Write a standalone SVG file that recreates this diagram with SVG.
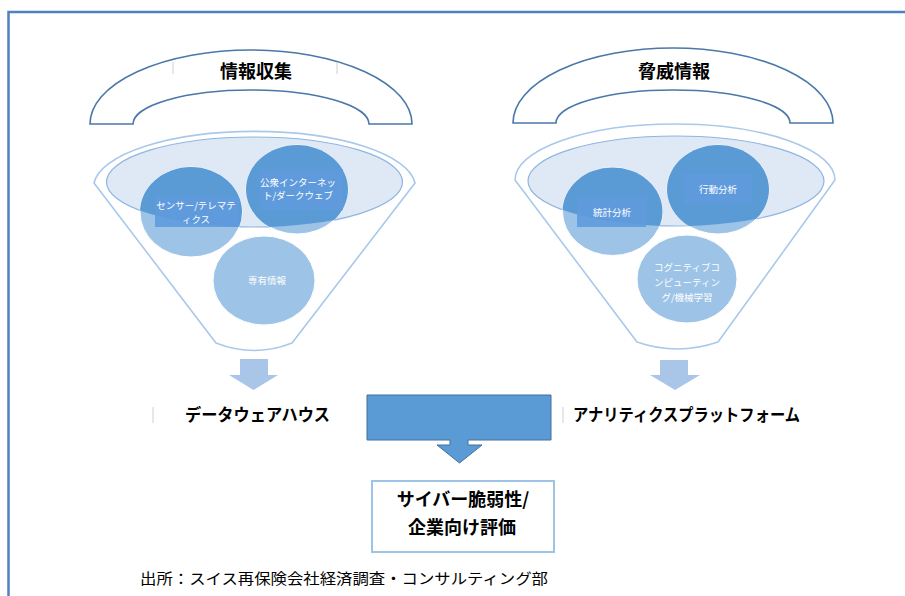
<svg xmlns="http://www.w3.org/2000/svg" width="905" height="596" viewBox="0 0 905 596">
<style>
.arch{fill:#ffffff;stroke:#4a78a8;stroke-width:1.6}
.funnel{fill:#ffffff;stroke:#a9c9ea;stroke-width:1.6}
.rim{fill:#dfe8f5;stroke:#8fb5e0;stroke-width:1.2}
.cl{fill:#9dc3e6;stroke:#ffffff;stroke-width:1}
.cd{fill:#5b9bd5}
.lbl{fill:#5f9bdd;opacity:0.9}
.wt{fill:#ffffff;font-family:"Noto Sans CJK JP","Noto Sans",sans-serif;font-size:9.5px;text-anchor:middle}
.title{fill:#000000;font-family:"Noto Sans CJK JP",sans-serif;font-size:18px;font-weight:bold;text-anchor:middle}
.bold{fill:#000000;font-family:"Noto Sans CJK JP",sans-serif;font-size:17px;font-weight:bold}
.small{fill:#a9c5e8}
.faint{stroke:#d0d0d0;stroke-width:1}
</style>
<defs>
<clipPath id="clipL"><ellipse cx="254.5" cy="182" rx="148" ry="45"/></clipPath>
<clipPath id="clipR"><ellipse cx="676" cy="181" rx="148" ry="45"/></clipPath>
</defs>
<rect x="0" y="0" width="905" height="596" fill="#ffffff"/>
<path d="M8.5 596 V12 H905" fill="none" stroke="#4f81bd" stroke-width="2.5"/>

<g id="left-funnel">
<path class="arch" d="M90 124 A161 74 0 0 1 412 124 L369 124 A118 34 0 0 0 133 124 Z"/>
<line class="faint" x1="173" y1="62" x2="173" y2="74"/>
<line class="faint" x1="337" y1="62" x2="337" y2="74"/>
<text class="title" x="256" y="78">情報収集</text>
<path class="funnel" d="M94 183 A161 56 0 0 1 415 183 L292 343 Q254 358 216 343 Z"/>
<ellipse class="rim" cx="254.5" cy="182" rx="148" ry="45"/>
<g id="node-sensor">
<ellipse class="cl" cx="191" cy="212" rx="51" ry="45"/>
<ellipse class="cd" cx="191" cy="212" rx="51" ry="45" clip-path="url(#clipL)"/>
<rect class="lbl" x="155" y="197" width="84" height="30"/>
<text class="wt" x="196" y="209">センサー/テレマテ</text>
<text class="wt" x="196" y="223">ィクス</text>
</g>
<g id="node-internet">
<ellipse class="cl" cx="297" cy="189.5" rx="51" ry="44.5"/>
<ellipse class="cd" cx="297" cy="189.5" rx="51" ry="44.5" clip-path="url(#clipL)"/>
<rect class="lbl" x="260" y="169" width="83" height="41"/>
<text class="wt" x="298" y="186">公衆インターネッ</text>
<text class="wt" x="298" y="199">ト/ダークウェブ</text>
</g>
<g id="node-proprietary">
<ellipse class="cl" cx="264" cy="280.5" rx="51" ry="44.5"/>
<text class="wt" x="267" y="284">専有情報</text>
</g>
</g>

<g id="right-funnel">
<path class="arch" d="M513 123 A160 75 0 0 1 833 123 L790 123 A117 33 0 0 0 556 123 Z"/>
<text class="title" x="674" y="78">脅威情報</text>
<path class="funnel" d="M515 180 A160 56 0 0 1 835 180 L718 342 Q677 356 637 342 Z"/>
<ellipse class="rim" cx="676" cy="181" rx="148" ry="45"/>
<g id="node-stats">
<ellipse class="cl" cx="612.5" cy="211.5" rx="50" ry="44"/>
<ellipse class="cd" cx="612.5" cy="211.5" rx="50" ry="44" clip-path="url(#clipR)"/>
<rect class="lbl" x="577" y="197" width="69" height="30"/>
<text class="wt" x="612" y="216">統計分析</text>
</g>
<g id="node-behavior">
<ellipse class="cl" cx="718" cy="189.5" rx="51" ry="44.5"/>
<ellipse class="cd" cx="718" cy="189.5" rx="51" ry="44.5" clip-path="url(#clipR)"/>
<rect class="lbl" x="684" y="174" width="68" height="30"/>
<text class="wt" x="718" y="193">行動分析</text>
</g>
<g id="node-cognitive">
<ellipse class="cl" cx="687" cy="279" rx="50" ry="44"/>
<text class="wt" x="687" y="271">コグニティブコ</text>
<text class="wt" x="687" y="286">ンピューティン</text>
<text class="wt" x="687" y="301">グ/機械学習</text>
</g>
</g>

<g id="connectors">
<path class="small" d="M240 359 H268 V375 H278 L253.5 390 L229 375 H240 Z"/>
<path class="small" d="M660 360 H688 V375 H700 L675 390 L650 375 H660 Z"/>
<path d="M367 395 H551 V440 H468 V445 H482 L459.5 463 L437 445 H450 V440 H367 Z" fill="#5b9bd5" stroke="#41719c" stroke-width="1"/>
</g>

<g id="node-dwh">
<line class="faint" x1="153" y1="407" x2="153" y2="423"/>
<text class="bold" x="185" y="421" textLength="145" lengthAdjust="spacingAndGlyphs">データウェアハウス</text>
</g>
<g id="node-platform">
<line class="faint" x1="563" y1="407" x2="563" y2="423"/>
<text class="bold" x="573" y="421" textLength="227" lengthAdjust="spacingAndGlyphs">アナリティクスプラットフォーム</text>
</g>
<g id="node-result">
<rect x="372" y="481" width="182" height="71" fill="#ffffff" stroke="#9dc3e6" stroke-width="2"/>
<text class="title" x="463" y="506">サイバー脆弱性/</text>
<text class="title" x="462" y="534">企業向け評価</text>
</g>
<text x="140" y="584" font-family="'Noto Sans CJK JP',sans-serif" font-size="15" fill="#000000" textLength="408" lengthAdjust="spacingAndGlyphs">出所：スイス再保険会社経済調査・コンサルティング部</text>
</svg>
